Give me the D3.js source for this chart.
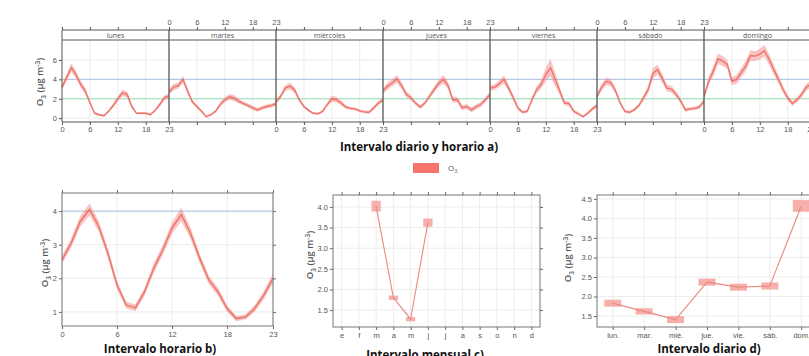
<!DOCTYPE html>
<html>
<head>
<meta charset="utf-8">
<script src="https://cdn.jsdelivr.net/npm/d3@7"></script>
<style>
  body { margin: 0; background: #fff; }
  svg { display: block; font-family: 'Open Sans', sans-serif; }
</style>
</head>
<body>
<svg id="chart" width="809" height="356"></svg>
<script>
// --- data ---
const days = ['lunes', 'martes', 'miércoles', 'jueves', 'viernes', 'sábado', 'domingo']
const hourTicks = [0, 6, 12, 18, 23]

// hourly mean O3 per weekday (hours 0..23)
const weekHourly = [
  [3.2, 4.2, 5.2, 4.5, 3.5, 2.8, 1.6, 0.5, 0.35, 0.25, 0.7, 1.3, 2.0, 2.6, 2.45, 1.2, 0.5, 0.5, 0.5, 0.35, 0.8, 1.4, 2.1, 2.3],
  [2.7, 3.2, 3.35, 4.0, 2.8, 1.7, 1.2, 0.7, 0.15, 0.35, 0.7, 1.4, 1.9, 2.2, 2.05, 1.75, 1.5, 1.3, 1.05, 0.85, 1.05, 1.2, 1.3, 1.5],
  [1.7, 2.25, 3.1, 3.3, 2.9, 1.9, 1.2, 0.8, 0.5, 0.45, 0.7, 1.4, 2.0, 1.9, 1.55, 1.15, 1.0, 0.95, 0.75, 0.65, 0.6, 1.05, 1.55, 1.9],
  [2.8, 3.3, 3.65, 4.05, 3.35, 2.45, 2.1, 1.55, 1.15, 1.55, 2.25, 2.95, 3.6, 4.0, 3.35, 1.9, 1.9, 1.05, 1.2, 0.85, 1.15, 1.4, 1.9, 2.45],
  [3.1, 3.2, 3.55, 4.0, 3.1, 2.1, 1.05, 0.6, 0.7, 1.9, 2.9, 3.5, 4.5, 5.2, 4.0, 2.8, 1.55, 1.5, 0.7, 0.45, 0.15, 0.5, 0.95, 1.3],
  [2.25, 3.2, 3.8, 3.65, 2.8, 1.55, 0.7, 0.6, 0.85, 1.3, 2.1, 2.95, 4.6, 5.0, 4.15, 3.1, 3.0, 2.45, 1.75, 0.85, 0.95, 1.0, 1.15, 1.75],
  [2.25, 3.8, 4.85, 6.1, 5.9, 5.55, 3.8, 4.0, 4.7, 5.4, 6.45, 6.4, 6.6, 6.95, 6.05, 5.0, 4.0, 2.95, 2.1, 1.5, 1.9, 2.45, 3.2, 3.5]
]
// half-width of the confidence band for each of the values above
const weekHourlyCI = [
  [0.3, 0.35, 0.45, 0.4, 0.35, 0.3, 0.2, 0.15, 0.1, 0.1, 0.15, 0.2, 0.25, 0.35, 0.3, 0.2, 0.1, 0.1, 0.1, 0.1, 0.15, 0.2, 0.25, 0.25],
  [0.3, 0.35, 0.3, 0.35, 0.3, 0.2, 0.15, 0.15, 0.1, 0.1, 0.15, 0.2, 0.25, 0.3, 0.3, 0.25, 0.2, 0.2, 0.2, 0.2, 0.2, 0.2, 0.2, 0.2],
  [0.2, 0.25, 0.3, 0.35, 0.3, 0.2, 0.15, 0.15, 0.1, 0.1, 0.15, 0.2, 0.3, 0.3, 0.25, 0.2, 0.15, 0.15, 0.15, 0.15, 0.15, 0.2, 0.2, 0.25],
  [0.3, 0.35, 0.35, 0.4, 0.35, 0.3, 0.25, 0.2, 0.2, 0.2, 0.25, 0.3, 0.35, 0.45, 0.4, 0.3, 0.3, 0.25, 0.25, 0.25, 0.25, 0.25, 0.25, 0.3],
  [0.3, 0.3, 0.35, 0.4, 0.35, 0.3, 0.2, 0.15, 0.15, 0.25, 0.35, 0.45, 0.7, 0.9, 0.7, 0.4, 0.25, 0.25, 0.2, 0.15, 0.1, 0.15, 0.2, 0.2],
  [0.3, 0.35, 0.4, 0.35, 0.3, 0.2, 0.15, 0.15, 0.15, 0.2, 0.3, 0.4, 0.55, 0.5, 0.45, 0.35, 0.35, 0.3, 0.25, 0.2, 0.2, 0.2, 0.2, 0.25],
  [0.3, 0.4, 0.5, 0.55, 0.5, 0.45, 0.4, 0.45, 0.5, 0.55, 0.55, 0.5, 0.55, 0.6, 0.55, 0.5, 0.4, 0.35, 0.3, 0.25, 0.25, 0.3, 0.35, 0.35]
]

// b) mean by hour
const hourly = [2.55, 3.05, 3.7, 4.05, 3.55, 2.75, 1.8, 1.2, 1.12, 1.6, 2.3, 2.85, 3.5, 3.9, 3.35, 2.6, 1.95, 1.6, 1.1, 0.8, 0.85, 1.1, 1.5, 2.0]
const hourlyCI = [0.12, 0.14, 0.16, 0.18, 0.16, 0.14, 0.12, 0.1, 0.1, 0.12, 0.14, 0.15, 0.17, 0.2, 0.17, 0.14, 0.13, 0.12, 0.1, 0.08, 0.08, 0.1, 0.12, 0.14]

// c) mean by month
const monthLabels = ['e', 'f', 'm', 'a', 'm', 'j', 'j', 'a', 's', 'o', 'n', 'd']
const monthNum = [3, 4, 5, 6]
const monthly = [4.02, 1.8, 1.28, 3.62]
const monthlyCI = [0.13, 0.05, 0.05, 0.1]
const monthTicks = [1.5, 2.0, 2.5, 3.0, 3.5, 4.0]

// d) mean by weekday
const weekLabels = ['lun.', 'mar.', 'mié.', 'jue.', 'vie.', 'sáb.', 'dom.']
const weekly = [1.83, 1.62, 1.41, 2.37, 2.24, 2.27, 4.32]
const weeklyCI = [0.09, 0.08, 0.09, 0.09, 0.09, 0.09, 0.15]
const weekTicks = [1.5, 2.0, 2.5, 3.0, 3.5, 4.0, 4.5]

// --- style ---
const red = '#ec6a62'
const band = '#f48a83'
const gridCol = '#ececec'
const frame = '#555'
const tickCol = '#555'

const svg = d3.select('#chart')

function styleAxis(g, col) {
  g.select('.domain').remove()
  g.selectAll('line').attr('stroke', col)
  g.selectAll('text').attr('fill', '#555').style('font-size', '7.5px')
}

// y title "O3 (µg m-3)" with real sub/superscripts
function yLabel(x, y) {
  const t = svg.append('text').attr('transform', `translate(${x},${y}) rotate(-90)`)
    .attr('text-anchor', 'middle').attr('fill', '#555')
    .style('font-size', '9.5px').style('font-weight', 600)
  t.append('tspan').text('O')
  t.append('tspan').attr('dy', 2.5).style('font-size', '6.5px').text('3')
  t.append('tspan').attr('dy', -2.5).text(' (µg m')
  t.append('tspan').attr('dy', -3.5).style('font-size', '6.5px').text('-3')
  t.append('tspan').attr('dy', 3.5).text(')')
}

function bigTitle(x, y, s) {
  svg.append('text').attr('x', x).attr('y', y).attr('text-anchor', 'middle')
    .style('font-size', '11.5px').style('font-weight', 'bold').attr('fill', '#111')
    .text(s)
}

// ================= a) day + hour =================
const topX0 = 62
const dayW = 107
const topY = d3.scaleLinear().domain([-0.4, 8.06]).range([122, 40])

// horizontal grid + reference lines
const topRight = topX0 + dayW * 7
svg.append('g').selectAll('line').data([0, 2, 4, 6]).enter().append('line')
  .attr('x1', topX0).attr('x2', topRight)
  .attr('y1', (d) => topY(d)).attr('y2', (d) => topY(d))
  .attr('stroke', gridCol)

days.forEach((day, i) => {
  const x = d3.scaleLinear().domain([0, 23]).range([topX0 + i * dayW, topX0 + (i + 1) * dayW])
  const g = svg.append('g')

  g.selectAll('.vg').data([6, 12, 18]).enter().append('line')
    .attr('x1', (d) => x(d)).attr('x2', (d) => x(d))
    .attr('y1', 40).attr('y2', 122)
    .attr('stroke', gridCol)

  // bottom axis (labels on lunes, miércoles, viernes, domingo)
  const bottom = g.append('g').attr('transform', 'translate(0,122)')
    .call(d3.axisBottom(x).tickValues(hourTicks).tickSize(3).tickPadding(2)
      .tickFormat(i % 2 === 0 ? d3.format('d') : () => ''))
  styleAxis(bottom, tickCol)

  // top axis (labels on martes, jueves, sábado)
  const top = g.append('g').attr('transform', 'translate(0,30)')
    .call(d3.axisTop(x).tickValues(hourTicks).tickSize(3).tickPadding(2)
      .tickFormat(i % 2 === 1 ? d3.format('d') : () => ''))
  styleAxis(top, tickCol)

  // strip label
  g.append('text').attr('x', x(11.5)).attr('y', 38)
    .attr('text-anchor', 'middle').attr('fill', '#555')
    .style('font-size', '7px').text(day)
})

// reference lines
svg.append('line').attr('x1', topX0).attr('x2', topRight)
  .attr('y1', topY(4)).attr('y2', topY(4)).attr('stroke', '#a9c2e6').attr('stroke-width', 1)
svg.append('line').attr('x1', topX0).attr('x2', topRight)
  .attr('y1', topY(2)).attr('y2', topY(2)).attr('stroke', '#96e0b4').attr('stroke-width', 1.2)

// bands and lines
days.forEach((day, i) => {
  const x = d3.scaleLinear().domain([0, 23]).range([topX0 + i * dayW, topX0 + (i + 1) * dayW])
  const vals = weekHourly[i]
  const ci = weekHourlyCI[i]
  const area = d3.area()
    .x((d, h) => x(h))
    .y0((d, h) => topY(d - ci[h]))
    .y1((d, h) => topY(d + ci[h]))
  const line = d3.line().x((d, h) => x(h)).y((d) => topY(d))
  svg.append('path').datum(vals).attr('d', area).attr('fill', band).attr('opacity', 0.5)
  svg.append('path').datum(vals).attr('d', line).attr('fill', 'none')
    .attr('stroke', red).attr('stroke-width', 1.4).attr('opacity', 0.9)
})

// frame lines
svg.append('line').attr('x1', topX0).attr('x2', topRight).attr('y1', 30).attr('y2', 30).attr('stroke', frame)
svg.append('line').attr('x1', topX0).attr('x2', topRight).attr('y1', 40).attr('y2', 40).attr('stroke', frame)
svg.append('line').attr('x1', topX0).attr('x2', topRight).attr('y1', 122).attr('y2', 122).attr('stroke', frame)
svg.append('g').selectAll('line').data(d3.range(8)).enter().append('line')
  .attr('x1', (d) => topX0 + d * dayW).attr('x2', (d) => topX0 + d * dayW)
  .attr('y1', 30).attr('y2', 122)
  .attr('stroke', frame).attr('stroke-width', (d) => (d === 0 ? 1 : 1.3))

const topLeft = svg.append('g').attr('transform', `translate(${topX0},0)`)
  .call(d3.axisLeft(topY).tickValues([0, 2, 4, 6]).tickSize(3).tickPadding(2))
styleAxis(topLeft, tickCol)

yLabel(43, 82)
bigTitle(419, 151, 'Intervalo diario y horario a)')

// legend
svg.append('rect').attr('x', 413).attr('y', 163).attr('width', 26).attr('height', 10).attr('fill', '#f6736b')
const leg = svg.append('text').attr('x', 448).attr('y', 171).attr('fill', '#555').style('font-size', '8px')
leg.append('tspan').text('O')
leg.append('tspan').attr('dy', 2).style('font-size', '5.5px').text('3')

// ================= helper for the lower boxes =================
function boxFrame(x0, x1, y0, y1, xs, ys, xTickVals, xFmt, yTickVals, yFmt) {
  const g = svg.append('g')
  g.selectAll('.gx').data(xTickVals).enter().append('line')
    .attr('x1', (d) => xs(d)).attr('x2', (d) => xs(d)).attr('y1', y0).attr('y2', y1).attr('stroke', gridCol)
  g.selectAll('.gy').data(yTickVals).enter().append('line')
    .attr('x1', x0).attr('x2', x1).attr('y1', (d) => ys(d)).attr('y2', (d) => ys(d)).attr('stroke', gridCol)

  const b = g.append('g').attr('transform', `translate(0,${y1})`)
    .call(d3.axisBottom(xs).tickValues(xTickVals).tickSize(3).tickPadding(3).tickFormat(xFmt))
  styleAxis(b, '#666')
  const t = g.append('g').attr('transform', `translate(0,${y0})`)
    .call(d3.axisTop(xs).tickValues(xTickVals).tickSize(3).tickFormat(() => ''))
  styleAxis(t, '#666')
  const l = g.append('g').attr('transform', `translate(${x0},0)`)
    .call(d3.axisLeft(ys).tickValues(yTickVals).tickSize(3).tickPadding(2).tickFormat(yFmt))
  styleAxis(l, '#666')
  const r = g.append('g').attr('transform', `translate(${x1},0)`)
    .call(d3.axisRight(ys).tickValues(yTickVals).tickSize(3).tickFormat(() => ''))
  styleAxis(r, '#666')
  return g
}
function boxBorder(x0, x1, y0, y1) {
  svg.append('rect').attr('x', x0).attr('y', y0).attr('width', x1 - x0).attr('height', y1 - y0)
    .attr('fill', 'none').attr('stroke', '#777').attr('stroke-width', 1)
}

// ================= b) hour =================
{
  const x0 = 62, x1 = 273, y0 = 193, y1 = 326
  const xs = d3.scaleLinear().domain([0, 23]).range([x0, x1])
  const ys = d3.scaleLinear().domain([0.58, 4.54]).range([y1, y0])
  boxFrame(x0, x1, y0, y1, xs, ys, hourTicks, d3.format('d'), [1, 2, 3, 4], d3.format('d'))
  svg.append('line').attr('x1', x0).attr('x2', x1).attr('y1', ys(4)).attr('y2', ys(4))
    .attr('stroke', '#a9c2e6')
  const area = d3.area().x((d, h) => xs(h))
    .y0((d, h) => ys(d - hourlyCI[h])).y1((d, h) => ys(d + hourlyCI[h]))
  svg.append('path').datum(hourly).attr('d', area).attr('fill', band).attr('opacity', 0.5)
  svg.append('path').datum(hourly).attr('d', d3.line().x((d, h) => xs(h)).y((d) => ys(d)))
    .attr('fill', 'none').attr('stroke', red).attr('stroke-width', 1.5).attr('opacity', 0.9)
  boxBorder(x0, x1, y0, y1)
  yLabel(48, 263)
  bigTitle(160, 353, 'Intervalo horario b)')
}

const boxHalf = 0.27

// ================= c) month =================
{
  const x0 = 333, x1 = 540, y0 = 195, y1 = 327
  const xs = d3.scaleLinear().domain([0.5, 12.5]).range([x0, x1])
  const ys = d3.scaleLinear().domain([1.09, 4.29]).range([y1, y0])
  boxFrame(x0, x1, y0, y1, xs, ys, d3.range(1, 13), (d) => monthLabels[d - 1], monthTicks, d3.format('.1f'))
  svg.append('g').selectAll('rect').data(monthly).enter().append('rect')
    .attr('x', (d, i) => xs(monthNum[i] - boxHalf))
    .attr('width', (d, i) => xs(monthNum[i] + boxHalf) - xs(monthNum[i] - boxHalf))
    .attr('y', (d, i) => ys(d + monthlyCI[i]))
    .attr('height', (d, i) => ys(d - monthlyCI[i]) - ys(d + monthlyCI[i]))
    .attr('fill', '#f5a19b').attr('opacity', 0.85)
  svg.append('path').datum(monthly)
    .attr('d', d3.line().x((d, i) => xs(monthNum[i])).y((d) => ys(d)))
    .attr('fill', 'none').attr('stroke', '#e98881').attr('stroke-width', 1.1)
  boxBorder(x0, x1, y0, y1)
  yLabel(313, 255)
  bigTitle(425, 359, 'Intervalo mensual c)')
}

// ================= d) weekday =================
{
  const x0 = 597, x1 = 817, y0 = 195, y1 = 327
  const xs = d3.scaleLinear().domain([0.5, 7.5]).range([x0, x1])
  const ys = d3.scaleLinear().domain([1.22, 4.6]).range([y1, y0])
  boxFrame(x0, x1, y0, y1, xs, ys, d3.range(1, 8), (d) => weekLabels[d - 1], weekTicks, d3.format('.1f'))
  svg.append('g').selectAll('rect').data(weekly).enter().append('rect')
    .attr('x', (d, i) => xs(i + 1 - boxHalf))
    .attr('width', xs(1 + boxHalf) - xs(1 - boxHalf))
    .attr('y', (d, i) => ys(d + weeklyCI[i]))
    .attr('height', (d, i) => ys(d - weeklyCI[i]) - ys(d + weeklyCI[i]))
    .attr('fill', '#f5a19b').attr('opacity', 0.85)
  svg.append('path').datum(weekly)
    .attr('d', d3.line().x((d, i) => xs(i + 1)).y((d) => ys(d)))
    .attr('fill', 'none').attr('stroke', '#e98881').attr('stroke-width', 1.1)
  boxBorder(x0, x1, y0, y1)
  yLabel(571, 258)
  bigTitle(709, 353, 'Intervalo diario d)')
}
</script>
</body>
</html>
